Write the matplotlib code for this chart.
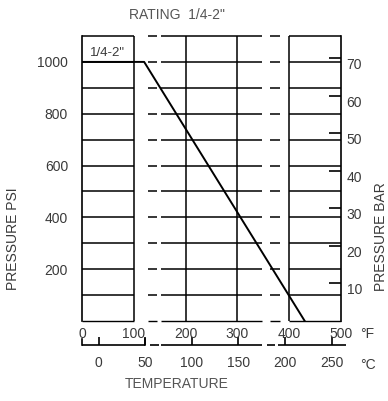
import matplotlib
matplotlib.use("Agg")
import matplotlib.pyplot as plt
import matplotlib.transforms as mtransforms

# ---- data ----
rating_temp_f = [0, 120, 430]
rating_psi = [1000, 1000, 0]
f_ticks = [0, 100, 200, 300, 400, 500]
c_ticks = [0, 50, 100, 150, 200, 250]
psi_ticks = [200, 400, 600, 800, 1000]
bar_ticks = [10, 20, 30, 40, 50, 60, 70]
grid_psi = [100, 200, 300, 400, 500, 600, 700, 800, 900, 1000, 1100]
grid_f = [100, 200, 300, 400]
curve_label = '1/4-2"'

PSI_PER_BAR = 14.5
# segments of the broken grid (°F)
segs = [(0, 100), (127, 145), (152, 347), (363, 382), (400, 500)]

plt.rcParams['font.family'] = ['Liberation Sans', 'DejaVu Sans']
txt = '#3a3a3a'

fig = plt.figure(figsize=(3.88, 4.01), dpi=100)
ax = fig.add_axes([82/388, 1-321/401, 259/388, 285/401])
ax.set_xlim(0, 500)
ax.set_ylim(0, 1100)

lw = 1.1
for p in [0] + grid_psi:
    for a, b in segs:
        ax.plot([a, b], [p, p], color='black', lw=lw if p else 1.0,
                solid_capstyle='butt', zorder=2, clip_on=False)
for t in grid_f:
    ax.axvline(t, color='black', lw=lw, zorder=2)

ax.plot(rating_temp_f, rating_psi, color='black', lw=1.4, zorder=3)
ax.text(15, 1012, curve_label, fontsize=9.5, color=txt, ha='left', va='bottom')

for s in ['top', 'bottom']:
    ax.spines[s].set_visible(False)
for s in ['left', 'right']:
    ax.spines[s].set_linewidth(1.2)

ax.set_xticks(f_ticks)
ax.set_yticks(psi_ticks)
ax.tick_params(axis='both', length=0, labelsize=10, labelcolor=txt)
ax.tick_params(axis='x', pad=4)
ax.tick_params(axis='y', pad=10)

ax.set_ylabel('PRESSURE PSI', fontsize=10, color=txt)
ax.yaxis.set_label_coords(-0.238, 0.29)

# bar axis
axr = ax.secondary_yaxis('right', functions=(lambda p: p / PSI_PER_BAR,
                                             lambda b: b * PSI_PER_BAR))
axr.set_yticks(bar_ticks)
axr.tick_params(direction='in', length=9, width=1.2, labelsize=10,
                labelcolor=txt, pad=4)
axr.spines['right'].set_visible(False)
for lab in axr.get_yticklabels():
    lab.set_va('top')
fig.text(381/388, 1-237/401, 'PRESSURE BAR', rotation=90, fontsize=10,
         color=txt, ha='center', va='center')

# celsius axis
loc = -24/285
axc = ax.secondary_xaxis(loc, functions=(lambda f: (f - 32) * 5 / 9,
                                         lambda c: c * 9 / 5 + 32))
axc.set_xticks(c_ticks)
axc.tick_params(direction='in', length=6, width=1.2, labelsize=10,
                labelcolor=txt, pad=8)
axc.spines['bottom'].set_visible(False)
trans = mtransforms.blended_transform_factory(ax.transData, ax.transAxes)
for a, b in [(0, 122), (132, 148), (152, 347), (358, 372), (378, 510)]:
    ax.plot([a, b], [loc, loc], color='black', lw=1.2, transform=trans,
            clip_on=False, solid_capstyle='butt')
ax.plot([0, 0], [loc, loc + 0.02], color='black', lw=1.2, transform=trans,
        clip_on=False)
ax.plot([122, 122], [loc, loc + 0.02], color='black', lw=1.2, transform=trans,
        clip_on=False)

ax.text(1.075, -0.045, '°F', transform=ax.transAxes, fontsize=10, color=txt,
        ha='left', va='center')
ax.text(1.075, -0.155, '°C', transform=ax.transAxes, fontsize=10, color=txt,
        ha='left', va='center')

fig.text(0.455, 1-15/401, 'RATING  1/4-2"', fontsize=10, color='#555555',
         ha='center', va='center')
fig.text(0.455, 1-384/401, 'TEMPERATURE', fontsize=10, color='#555555',
         ha='center', va='center')

fig.savefig('out.png', dpi=100, facecolor='white')
